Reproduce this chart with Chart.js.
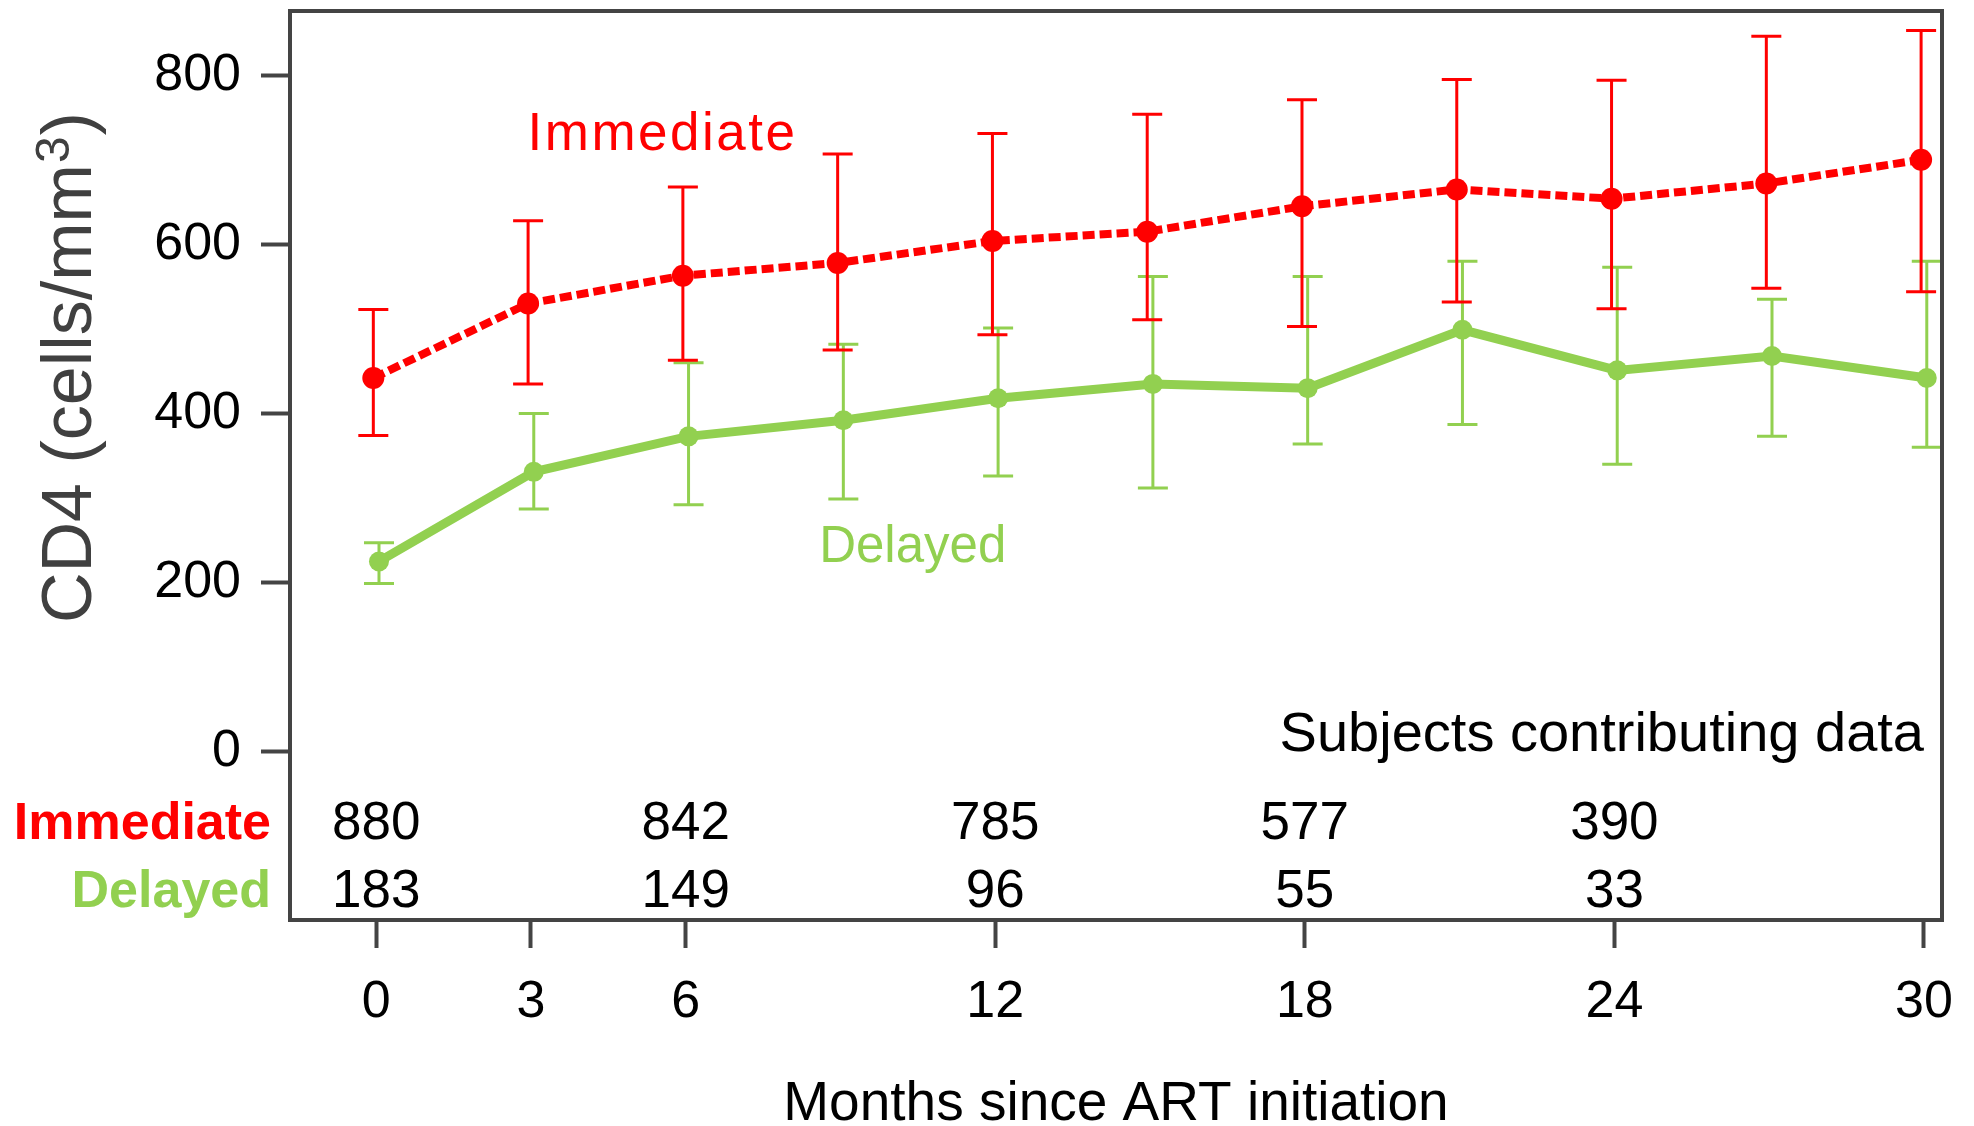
<!DOCTYPE html>
<html>
<head>
<meta charset="utf-8">
<script src="https://cdn.jsdelivr.net/npm/chart.js@4.4.0/dist/chart.umd.min.js"></script>
<style>
  html, body { margin: 0; padding: 0; background: #fff; }
  #wrap { width: 1974px; height: 1126px; position: relative; }
</style>
</head>
<body>
<div id="wrap"><canvas id="myChart"></canvas></div>
<script>
// months since ART initiation
const months = [0, 3, 6, 9, 12, 15, 18, 21, 24, 27, 30];

// Immediate arm: mean CD4 and error bar ends
const immediateMean  = [442, 530, 563, 578, 604, 615, 645, 665, 654, 672, 700];
const immediateUpper = [523, 628, 668, 707, 731, 754, 771, 795, 794, 846, 853];
const immediateLower = [374, 435, 463, 475, 493, 511, 503, 532, 524, 548, 544];

// Delayed arm
const delayedMean  = [225, 331, 373, 392, 418, 435, 430, 499, 451, 468, 442];
const delayedUpper = [247, 400, 460, 482, 501, 562, 562, 580, 573, 535, 580];
const delayedLower = [199, 287, 292, 299, 326, 312, 364, 387, 340, 373, 360];

// subjects contributing data
const countMonths = [0, 6, 12, 18, 24];
const immediateCounts = [880, 842, 785, 577, 390];
const delayedCounts = [183, 149, 96, 55, 33];

const xTicks = [0, 3, 6, 12, 18, 24, 30];
const yTicks = [0, 200, 400, 600, 800];

const RED = '#ff0000';
const GREEN = '#92d050';
const AXIS = '#444444';
const FONT = '"Liberation Sans", Arial, sans-serif';
const OFF = 0.055; // small horizontal dodge between the two arms

//Error bars drawn under the lines
const errorBars = {
    id: 'errorBars',
    beforeDatasetsDraw(chart) {
        const { ctx, scales: { x, y } } = chart;
        const draw = (lo, hi, off, color) => {
            ctx.save();
            ctx.strokeStyle = color;
            ctx.lineWidth = 3;
            months.forEach((m, i) => {
                const px = x.getPixelForValue(m + off);
                const top = y.getPixelForValue(hi[i]);
                const bot = y.getPixelForValue(lo[i]);
                ctx.beginPath();
                ctx.moveTo(px, top); ctx.lineTo(px, bot);
                ctx.moveTo(px - 15, top); ctx.lineTo(px + 15, top);
                ctx.moveTo(px - 15, bot); ctx.lineTo(px + 15, bot);
                ctx.stroke();
            });
            ctx.restore();
        };
        draw(delayedLower, delayedUpper, OFF, GREEN);
        draw(immediateLower, immediateUpper, -OFF, RED);
    }
};

//Frame, labels, counts table and y title
const decorations = {
    id: 'decorations',
    afterDraw(chart) {
        const { ctx, chartArea: a, scales: { x, y } } = chart;
        ctx.save();
        ctx.strokeStyle = AXIS;
        ctx.lineWidth = 4;
        ctx.strokeRect(a.left, a.top, a.right - a.left, a.bottom - a.top);

        ctx.textBaseline = 'alphabetic';

        // series labels inside the plot
        ctx.textAlign = 'center';
        ctx.fillStyle = RED;
        ctx.font = '53px ' + FONT;
        ctx.letterSpacing = '2.5px';
        ctx.fillText('Immediate', x.getPixelForValue(5.53) + 1, y.getPixelForValue(712));
        ctx.letterSpacing = '0px';
        ctx.fillStyle = GREEN;
        ctx.font = '51px ' + FONT;
        ctx.fillText('Delayed', x.getPixelForValue(10.4), y.getPixelForValue(224));

        // subjects contributing data
        ctx.fillStyle = '#000';
        ctx.font = '56px ' + FONT;
        ctx.textAlign = 'right';
        ctx.fillText('Subjects contributing data', a.right - 18, y.getPixelForValue(1));

        const rowI = y.getPixelForValue(-103);
        const rowD = y.getPixelForValue(-184);
        ctx.font = '53px ' + FONT;
        ctx.textAlign = 'center';
        countMonths.forEach((m, i) => {
            ctx.fillText(String(immediateCounts[i]), x.getPixelForValue(m), rowI);
            ctx.fillText(String(delayedCounts[i]), x.getPixelForValue(m), rowD);
        });

        ctx.textAlign = 'right';
        ctx.font = 'bold 52px ' + FONT;
        ctx.fillStyle = RED;
        ctx.fillText('Immediate', a.left - 19, rowI);
        ctx.fillStyle = GREEN;
        ctx.fillText('Delayed', a.left - 19, rowD);

        // y axis title with superscript
        ctx.translate(91, 623);
        ctx.rotate(-Math.PI / 2);
        ctx.textAlign = 'left';
        ctx.fillStyle = '#404040';
        ctx.font = '70px ' + FONT;
        const t1 = 'CD4 (cells/mm';
        ctx.fillText(t1, 0, 0);
        let w = ctx.measureText(t1).width;
        ctx.font = '48px ' + FONT;
        ctx.fillText('3', w + 1, -22);
        w += ctx.measureText('3').width + 2;
        ctx.font = '70px ' + FONT;
        ctx.fillText(')', w, 0);
        ctx.restore();
    }
};

const ctx = document.getElementById('myChart').getContext('2d');
const myChart = new Chart(ctx, {
    type: 'line',
    data: {
        datasets: [{
            label: 'Immediate',
            data: months.map((m, i) => ({ x: m - OFF, y: immediateMean[i] })),
            borderColor: RED,
            backgroundColor: RED,
            borderWidth: 8,
            borderDash: [12, 5],
            pointRadius: 11,
            pointBorderWidth: 0,
            pointBackgroundColor: RED,
            order: 1
        }, {
            label: 'Delayed',
            data: months.map((m, i) => ({ x: m + OFF, y: delayedMean[i] })),
            borderColor: GREEN,
            backgroundColor: GREEN,
            borderWidth: 9,
            pointRadius: 10,
            pointBorderWidth: 0,
            pointBackgroundColor: GREEN,
            order: 2
        }]
    },
    options: {
        responsive: true,
        maintainAspectRatio: false,
        animation: false,
        devicePixelRatio: 1,
        layout: { padding: { top: 11, right: 32, left: 0, bottom: 0 } },
        plugins: {
            legend: { display: false },
            tooltip: { enabled: false }
        },
        scales: {
            x: {
                type: 'linear',
                min: -1.67,
                max: 30.35,
                afterBuildTicks: s => { s.ticks = xTicks.map(v => ({ value: v })); },
                afterFit: s => { s.height = 206; s.paddingLeft = 0; s.paddingRight = 0; },
                grid: { display: true, drawOnChartArea: false, drawTicks: true, tickLength: 28, tickWidth: 4, tickColor: AXIS },
                border: { display: false },
                ticks: { color: '#000', font: { family: FONT, size: 52 }, padding: 23, maxRotation: 0, autoSkip: false },
                title: {
                    display: true,
                    text: 'Months since ART initiation',
                    color: '#000',
                    font: { family: FONT, size: 55, lineHeight: 1 },
                    padding: { top: 0, bottom: -6 }
                }
            },
            y: {
                min: -199,
                max: 876,
                afterBuildTicks: s => { s.ticks = yTicks.map(v => ({ value: v })); },
                afterFit: s => { s.width = 290; s.paddingTop = 0; s.paddingBottom = 0; },
                grid: { display: true, drawOnChartArea: false, drawTicks: true, tickLength: 29, tickWidth: 4, tickColor: AXIS },
                border: { display: false },
                ticks: { color: '#000', font: { family: FONT, size: 52 }, padding: 20 }
            }
        }
    },
    plugins: [errorBars, decorations]
});
</script>
</body>
</html>
